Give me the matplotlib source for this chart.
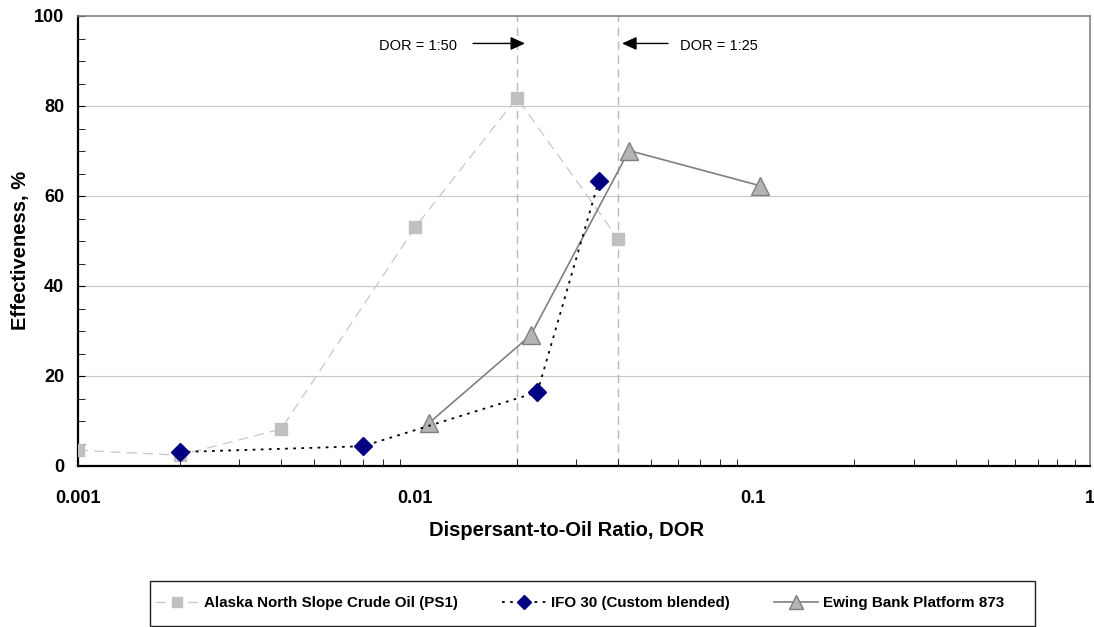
import matplotlib
matplotlib.use("Agg")
import matplotlib.pyplot as plt
from matplotlib.patches import Rectangle
from matplotlib.ticker import FixedLocator, NullFormatter, FuncFormatter

plt.rcParams['font.family'] = ['Liberation Sans', 'DejaVu Sans']

# Data
ans_x = [0.001, 0.002, 0.004, 0.01, 0.02, 0.04]
ans_y = [3.5, 2.4, 8.2, 53.1, 81.8, 50.4]
ifo_x = [0.002, 0.007, 0.023, 0.035]
ifo_y = [3.1, 4.4, 16.4, 63.4]
ewb_x = [0.011, 0.022, 0.043, 0.105]
ewb_y = [9.6, 29.1, 70.1, 62.3]
dor_lines = [0.02, 0.04]
names = ['Alaska North Slope Crude Oil (PS1)', 'IFO 30 (Custom blended)', 'Ewing Bank Platform 873']
xtick_labels = {0.001: '0.001', 0.01: '0.01', 0.1: '0.1', 1: '1'}

fig = plt.figure(figsize=(10.94, 6.27), dpi=100)
ax = fig.add_axes([78 / 1094, 161 / 627, 1012 / 1094, 450 / 627])
ax.set_xscale('log')
ax.set_xlim(0.001, 1)
ax.set_ylim(0, 100)

for v in [20, 40, 60, 80]:
    ax.axhline(v, color='#C8C8C8', lw=0.8, zorder=0)
for d in dor_lines:
    ax.axvline(d, color='#B8B8B8', lw=1.0, ls=(0, (6, 4)), zorder=1)

ax.plot(ans_x, ans_y, ls=(0, (8, 5)), color='#C8C8C8', lw=0.9, marker='s', ms=9,
        mfc='#C0C0C0', mec='#C0C0C0', label=names[0], zorder=3)
ax.plot(ifo_x, ifo_y, ls=(0, (1.5, 3)), color='black', lw=1.3, marker='D', ms=9,
        mfc='#000080', mec='#000080', label=names[1], zorder=4)
ax.plot(ewb_x, ewb_y, ls='-', color='#808080', lw=1.2, marker='^', ms=12.5,
        mfc='#B4B4B4', mec='#808080', mew=1.0, label=names[2], zorder=3)

ax.set_yticks([0, 20, 40, 60, 80, 100])
ax.yaxis.set_minor_locator(FixedLocator(list(range(0, 101, 5))))
ax.xaxis.set_major_formatter(FuncFormatter(lambda v, p: xtick_labels.get(round(v, 6), '')))
ax.xaxis.set_minor_formatter(NullFormatter())
ax.tick_params(axis='both', which='both', direction='in', labelsize=13)
ax.tick_params(axis='x', which='major', length=0, pad=17)
ax.tick_params(axis='x', which='minor', length=5)
ax.tick_params(axis='y', which='major', length=5, pad=10)
ax.tick_params(axis='y', which='minor', length=5)
for lab in ax.get_xticklabels() + ax.get_yticklabels():
    lab.set_fontweight('bold')

for s in ['left', 'bottom']:
    ax.spines[s].set_color('black')
    ax.spines[s].set_linewidth(1.6)
for s in ['top', 'right']:
    ax.spines[s].set_color('#808080')
    ax.spines[s].set_linewidth(1.2)

ax.set_xlabel('Dispersant-to-Oil Ratio, DOR', fontsize=14.5, fontweight='bold')
ax.xaxis.set_label_coords((567 - 78) / 1012, -0.122)
ax.set_ylabel('Effectiveness, %', fontsize=14.5, fontweight='bold')
ax.yaxis.set_label_coords(-0.047, 0.48)

astyle = '-|>,head_length=0.55,head_width=0.25'
ax.annotate('', xy=(0.02115, 93.9), xytext=(0.01483, 93.9),
            arrowprops=dict(arrowstyle=astyle, color='black', lw=1.0, mutation_scale=16,
                            shrinkA=0, shrinkB=0))
ax.text(0.01329, 93.4, 'DOR = 1:50', ha='right', va='center', fontsize=10.5)
ax.annotate('', xy=(0.04101, 93.9), xytext=(0.0561, 93.9),
            arrowprops=dict(arrowstyle=astyle, color='black', lw=1.0, mutation_scale=16,
                            shrinkA=0, shrinkB=0))
ax.text(0.0609, 93.4, 'DOR = 1:25', ha='left', va='center', fontsize=10.5)

# legend box
fig.patches.append(Rectangle((150 / 1094, 1 / 627), 885 / 1094, 45 / 627,
                             transform=fig.transFigure, fill=False,
                             edgecolor='#202020', lw=1.0))
leg = fig.legend(loc='center left', bbox_to_anchor=(155 / 1094, 0.0375), ncol=3,
                 prop={'weight': 'bold', 'size': 10.9}, frameon=False,
                 handlelength=2.97, handletextpad=0.27, columnspacing=2.9,
                 borderpad=0.0, borderaxespad=0.0, markerscale=0.75)

fig.savefig('out.png', dpi=100)
